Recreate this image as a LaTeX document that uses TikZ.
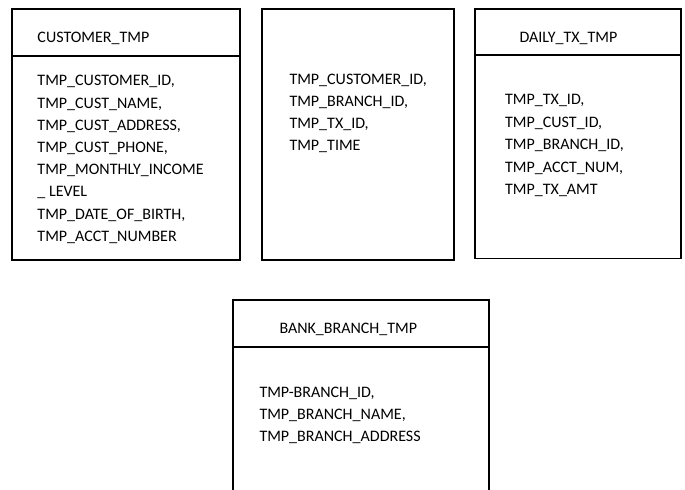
\documentclass[tikz,border=0pt]{standalone}
\usepackage{fontspec}
\setmainfont{Carlito}
\begin{document}
\begin{tikzpicture}[x=1bp,y=-1bp,
  tablebox/.style={draw=black, line width=1.6bp},
  divider/.style={draw=black, line width=1.6bp},
  label/.style={anchor=base west, inner sep=0pt, font=\fontsize{16bp}{22bp}\selectfont}]
\useasboundingbox (0,0) rectangle (685,490);
\clip (0,0) rectangle (685,490);

% CUSTOMER_TMP
\draw[tablebox] (12,9.3) rectangle (240,260);
\draw[divider] (12,56) -- (240,56);
\node[label] (custhead) at (37.3,43) {CUSTOMER\_TMP};
\foreach \t [count=\i] in {{TMP\_CUSTOMER\_ID,},{TMP\_CUST\_NAME,},{TMP\_CUST\_ADDRESS,},{TMP\_CUST\_PHONE,},{TMP\_MONTHLY\_INCOME},{\_ LEVEL},{TMP\_DATE\_OF\_BIRTH,},{TMP\_ACCT\_NUMBER}}
  \node[label] (cust\i) at (37.3,{86+22.2*(\i-1)}) {\t};

% link table without header
\draw[tablebox] (262,9.3) rectangle (454,260);
\foreach \t [count=\i] in {{TMP\_CUSTOMER\_ID,},{TMP\_BRANCH\_ID,},{TMP\_TX\_ID,},{TMP\_TIME}}
  \node[label] (link\i) at (289.3,{85+21.8*(\i-1)}) {\t};

% DAILY_TX_TMP
\draw[tablebox] (475,9.3) rectangle (681,258.3);
\draw[divider] (475,55) -- (681,55);
\node[label] (dailyhead) at (519.3,43) {DAILY\_TX\_TMP};
\foreach \t [count=\i] in {{TMP\_TX\_ID,},{TMP\_CUST\_ID,},{TMP\_BRANCH\_ID,},{TMP\_ACCT\_NUM,},{TMP\_TX\_AMT}}
  \node[label] (daily\i) at (505,{105+22.5*(\i-1)}) {\t};

% BANK_BRANCH_TMP (runs off the bottom edge)
\draw[tablebox] (233,495) -- (233,300) -- (489,300) -- (489,495);
\draw[divider] (233,347) -- (489,347);
\node[label] (branchhead) at (279.3,333) {BANK\_BRANCH\_TMP};
\foreach \t [count=\i] in {{TMP-BRANCH\_ID,},{TMP\_BRANCH\_NAME,},{TMP\_BRANCH\_ADDRESS}}
  \node[label] (branch\i) at (259.3,{397+22*(\i-1)}) {\t};
\end{tikzpicture}
\end{document}
